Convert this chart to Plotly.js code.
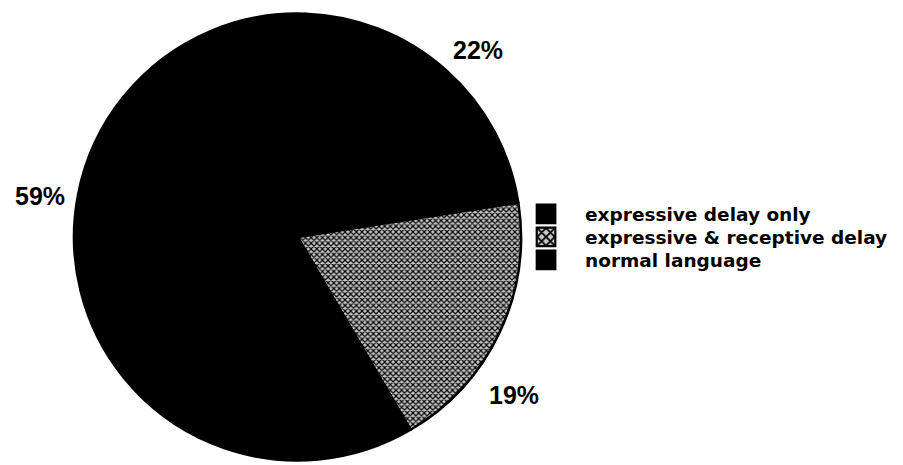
<!DOCTYPE html>
<html>
<head>
<meta charset="utf-8">
<script src="https://cdn.plot.ly/plotly-3.0.1.min.js"></script>
<style>
  html, body { margin: 0; padding: 0; background: #fff; }
  #chart { width: 903px; height: 465px; }
</style>
</head>
<body>
<div id="chart"></div>
<script>
// Language outcome groups and their share of children (%)
const categories = ["expressive delay only", "expressive & receptive delay", "normal language"];
const shares = [22, 19, 59];

// Where each percentage label sits (paper coordinates)
const labelX = [0.529, 0.569, 0.044];
const labelY = [0.892, 0.151, 0.578];

const pie = {
  type: "pie",
  labels: categories,
  values: shares,
  sort: false,
  direction: "clockwise",
  rotation: 2,
  textinfo: "none",
  hoverinfo: "label+percent",
  domain: { x: [74 / 903, 521 / 903], y: [4 / 465, 452 / 465] },
  marker: {
    colors: ["#000000", "#b0b0b0", "#000000"],
    line: { color: "#000000", width: 2.5 },
    pattern: {
      shape: ["", "x", ""],
      fgcolor: "#000000",
      bgcolor: ["#000000", "#c8c8c8", "#000000"],
      size: 4,
      solidity: 0.5
    }
  }
};

const labelFont = { family: "Liberation Sans, Arial, sans-serif", size: 25, color: "#000", weight: 700 };

const annotations = shares.map((v, i) => ({
  xref: "paper", yref: "paper",
  x: labelX[i], y: labelY[i],
  xanchor: "center", yanchor: "middle",
  text: v + "%",
  showarrow: false,
  font: labelFont
}));

const layout = {
  width: 903,
  height: 465,
  margin: { l: 0, r: 0, t: 0, b: 0 },
  paper_bgcolor: "#ffffff",
  showlegend: true,
  legend: {
    x: 0.5615,
    y: 0.58,
    xanchor: "left",
    yanchor: "top",
    itemwidth: 68,
    font: { family: "DejaVu Sans, sans-serif", size: 18.5, color: "#000", weight: 700 },
    bgcolor: "rgba(0,0,0,0)"
  },
  annotations: annotations
};

Plotly.newPlot("chart", [pie], layout, { staticPlot: true }).then(() => {
  // larger legend swatches with a thin outline, keeping their own placement
  document.querySelectorAll(".legendpie").forEach(p => {
    const t = p.getAttribute("transform") || "";
    p.setAttribute("transform", t + " scale(1.55)");
    p.style.strokeWidth = "1.4px";
  });
  // tighter spacing between legend rows
  const rows = Array.from(document.querySelectorAll(".legend .traces"));
  const pos = rows.map(g => {
    const m = /translate\(\s*([-\d.]+)[ ,]+([-\d.]+)\s*\)/.exec(g.getAttribute("transform") || "");
    return m ? [parseFloat(m[1]), parseFloat(m[2])] : null;
  });
  if (pos.length && pos.every(p => p)) {
    const y0 = pos[0][1];
    rows.forEach((g, i) => {
      const y = y0 + (pos[i][1] - y0) * 23 / 27;
      g.setAttribute("transform", "translate(" + pos[i][0] + "," + y + ")");
    });
  }
});
</script>
</body>
</html>
